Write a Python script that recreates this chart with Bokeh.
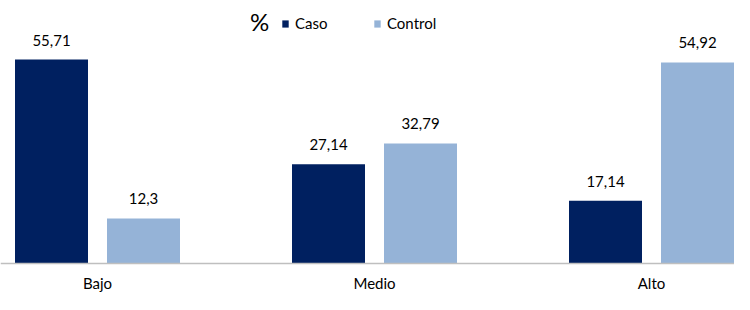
import numpy as np
from bokeh.plotting import figure
from bokeh.models import ColumnDataSource, Range1d, Legend, LegendItem, Label
from bokeh.transform import dodge
from bokeh.core.properties import value
from bokeh.embed import file_html
from bokeh.resources import INLINE

categories = ["Bajo", "Medio", "Alto"]
caso = [55.71, 27.14, 17.14]
control = [12.3, 32.79, 54.92]
series_names = ["Caso", "Control"]
colors = ["#002060", "#95B3D7"]

FONT = "Lato"
W, H = 734, 294
SPX = 277.0          # px per category
C0 = 97.0            # px of first category centre
BASE = 263.0         # px of baseline from top
SPY = 3.66           # px per percent unit

x_start = -C0 / SPX
x_end = x_start + W / SPX
y_start = -(H - BASE) / SPY
y_end = BASE / SPY

idx = np.arange(len(categories))
fmt = lambda v: ("%g" % v).replace(".", ",")
src = ColumnDataSource(dict(
    x=idx, cat=categories, caso=caso, control=control, zero=[0] * len(categories),
    caso_lbl=[fmt(v) for v in caso], control_lbl=[fmt(v) for v in control],
))

p = figure(width=W, height=H, output_backend="svg", toolbar_location=None,
           x_range=Range1d(x_start, x_end), y_range=Range1d(y_start, y_end),
           min_border=0)
p.outline_line_color = None
p.xgrid.visible = False
p.ygrid.visible = False
p.xaxis.visible = False
p.yaxis.visible = False
p.background_fill_color = "white"

off = 46 / SPX
bw = 73 / SPX
r1 = p.vbar(x=dodge("x", -off, range=p.x_range), top="caso", bottom=0, width=bw,
            source=src, fill_color=colors[0], line_color=None)
r2 = p.vbar(x=dodge("x", off, range=p.x_range), top="control", bottom=0, width=bw,
            source=src, fill_color=colors[1], line_color=None)

# baseline (category axis line)
p.hspan(y=[0], line_color="#BFBFBF", line_width=1.5)

for col, lbl, o in [("caso", "caso_lbl", -off), ("control", "control_lbl", off)]:
    p.text(x=dodge("x", o, range=p.x_range), y=col, text=lbl, source=src,
           text_align="center", text_baseline="bottom", y_offset=-14,
           text_font=value(FONT), text_font_size="15px", text_color="#000000")

# category labels
p.text(x="x", y="zero", text="cat", source=src, text_align="center",
       text_baseline="middle", y_offset=19, text_font=value(FONT),
       text_font_size="15px", text_color="#000000")

legend = Legend(items=[LegendItem(label=series_names[0], renderers=[r1]),
                       LegendItem(label=series_names[1], renderers=[r2])],
                orientation="horizontal", location=(281, 262),
                glyph_width=8, glyph_height=9, label_standoff=6, label_width=70,
                spacing=8, padding=0, margin=0, border_line_color=None,
                background_fill_alpha=0, label_text_font=FONT,
                label_text_font_size="15px", label_text_color="#000000")
p.add_layout(legend, "center")

pct = Label(x=x_start + 259 / SPX, y=(BASE - 21) / SPY, text="%",
            text_align="center", text_baseline="middle", text_font=FONT,
            text_font_size="24px", text_color="#000000")
p.add_layout(pct)

open("out.html", "w").write(file_html(p, INLINE))
